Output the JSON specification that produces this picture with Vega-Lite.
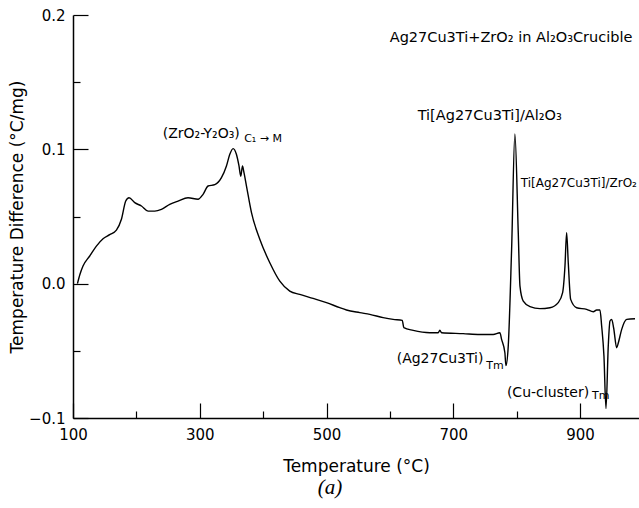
{
  "$schema": "https://vega.github.io/schema/vega-lite/v6.json",
  "autosize": {"type": "none"},
  "padding": {"left": 73, "top": 15, "right": 0, "bottom": 90},
  "width": 566,
  "height": 403,
  "background": "white",
  "config": {
    "font": "DejaVu Sans",
    "view": {"stroke": null},
    "title": {"font": "Liberation Serif", "fontStyle": "italic", "fontWeight": "normal", "fontSize": 21, "color": "black"}
  },
  "title": {"text": "(a)", "orient": "bottom", "anchor": "middle", "frame": "group", "offset": 3, "dx": -26},
  "datasets": {
    "curve": [
      {"t": 107, "d": 0.0},
      {"t": 111, "d": 0.007},
      {"t": 115.8, "d": 0.0131},
      {"t": 126.4, "d": 0.0206},
      {"t": 136.9, "d": 0.028},
      {"t": 147.4, "d": 0.0335},
      {"t": 157.9, "d": 0.0365},
      {"t": 168.5, "d": 0.0399},
      {"t": 176.4, "d": 0.0479},
      {"t": 183.2, "d": 0.0615},
      {"t": 188.4, "d": 0.064},
      {"t": 197.4, "d": 0.0603},
      {"t": 208, "d": 0.0578},
      {"t": 218.4, "d": 0.054},
      {"t": 229, "d": 0.054},
      {"t": 239.5, "d": 0.0553},
      {"t": 252.6, "d": 0.059},
      {"t": 265.7, "d": 0.0615},
      {"t": 281.5, "d": 0.064},
      {"t": 297.3, "d": 0.0628},
      {"t": 305.2, "d": 0.0665},
      {"t": 313.1, "d": 0.0727},
      {"t": 323.7, "d": 0.0737},
      {"t": 334.2, "d": 0.0789},
      {"t": 342.1, "d": 0.0876},
      {"t": 347.4, "d": 0.0963},
      {"t": 352.6, "d": 0.1005},
      {"t": 357.8, "d": 0.0963},
      {"t": 361.9, "d": 0.0876},
      {"t": 364.7, "d": 0.08},
      {"t": 367.4, "d": 0.0876},
      {"t": 369.3, "d": 0.0838},
      {"t": 373.7, "d": 0.0727},
      {"t": 381.6, "d": 0.0529},
      {"t": 394.7, "d": 0.033},
      {"t": 410.5, "d": 0.0156},
      {"t": 426.3, "d": 0.0019},
      {"t": 442, "d": -0.0055},
      {"t": 457.8, "d": -0.008},
      {"t": 478.8, "d": -0.011},
      {"t": 499.9, "d": -0.0141},
      {"t": 520.9, "d": -0.0179},
      {"t": 531.4, "d": -0.0196},
      {"t": 552.5, "d": -0.0216},
      {"t": 568.3, "d": -0.0229},
      {"t": 589.3, "d": -0.0253},
      {"t": 605.1, "d": -0.0266},
      {"t": 619.5, "d": -0.0273},
      {"t": 622, "d": -0.0328},
      {"t": 636.7, "d": -0.0348},
      {"t": 663, "d": -0.0365},
      {"t": 676.2, "d": -0.0365},
      {"t": 678.8, "d": -0.0346},
      {"t": 681.5, "d": -0.0365},
      {"t": 715.6, "d": -0.0372},
      {"t": 742, "d": -0.0378},
      {"t": 763, "d": -0.0378},
      {"t": 773.5, "d": -0.0365},
      {"t": 776.2, "d": -0.0415},
      {"t": 781.4, "d": -0.0514},
      {"t": 783, "d": -0.061},
      {"t": 786.7, "d": -0.0465},
      {"t": 792, "d": 0.0255},
      {"t": 797.2, "d": 0.1115},
      {"t": 802.5, "d": 0.038},
      {"t": 805.2, "d": -0.0018},
      {"t": 810.4, "d": -0.013},
      {"t": 821, "d": -0.0171},
      {"t": 836.7, "d": -0.0186},
      {"t": 852.5, "d": -0.0179},
      {"t": 865.6, "d": -0.0141},
      {"t": 872.5, "d": -0.0067},
      {"t": 876.2, "d": 0.0131},
      {"t": 878.8, "d": 0.038},
      {"t": 881.4, "d": 0.0156},
      {"t": 885.2, "d": -0.0117},
      {"t": 894.6, "d": -0.0179},
      {"t": 910.4, "d": -0.0191},
      {"t": 920.9, "d": -0.0209},
      {"t": 926.2, "d": -0.0196},
      {"t": 931.4, "d": -0.0196},
      {"t": 934.1, "d": -0.0316},
      {"t": 937.7, "d": -0.0539},
      {"t": 940.9, "d": -0.093},
      {"t": 944.5, "d": -0.0465},
      {"t": 947.2, "d": -0.0278},
      {"t": 949.9, "d": -0.0266},
      {"t": 953, "d": -0.033},
      {"t": 957.8, "d": -0.0477},
      {"t": 960.4, "d": -0.044},
      {"t": 965.7, "d": -0.034},
      {"t": 973.6, "d": -0.0266},
      {"t": 986.7, "d": -0.0261}
    ],
    "labels": [
      {"t": 599.7, "d": 0.1832, "txt": "Ag27Cu3Ti+ZrO₂ in Al₂O₃Crucible", "k": "a"},
      {"t": 643.8, "d": 0.125, "txt": "Ti[Ag27Cu3Ti]/Al₂O₃", "k": "a"},
      {"t": 241.5, "d": 0.1112, "txt": "(ZrO₂-Y₂O₃)", "k": "b"},
      {"t": 610.7, "d": -0.0564, "txt": "(Ag27Cu3Ti)", "k": "b"},
      {"t": 784.6, "d": -0.0812, "txt": "(Cu-cluster)", "k": "b"},
      {"t": 806.5, "d": 0.0752, "txt": "Ti[Ag27Cu3Ti]/ZrO₂", "k": "c"}
    ],
    "subs": [
      {"t": 370, "d": 0.1075, "txt": "C₁ → M"},
      {"t": 752, "d": -0.0612, "txt": "Tm"},
      {"t": 919, "d": -0.0837, "txt": "Tm"}
    ]
  },
  "layer": [
    {
      "data": {"name": "curve"},
      "mark": {"type": "line", "color": "black", "strokeWidth": 1.4, "interpolate": "monotone"},
      "encoding": {
        "x": {
          "field": "t", "type": "quantitative",
          "scale": {"domain": [100, 993], "nice": false, "zero": false},
          "axis": {
            "title": "Temperature (°C)",
            "values": [100, 200, 300, 400, 500, 600, 700, 800, 900],
            "labelExpr": "datum.value % 200 === 100 ? datum.label : ''",
            "format": "d",
            "grid": false,
            "domainColor": "black", "domainWidth": 1.5,
            "tickColor": "black", "tickWidth": 1.2,
            "tickSize": {"condition": {"test": "datum.value % 200 === 100", "value": -15}, "value": -7},
            "labelPadding": 24,
            "labelFontSize": 15, "labelColor": "black",
            "labelFlush": false, "labelOverlap": false,
            "titleFontSize": 17, "titleFontWeight": "normal", "titleColor": "black",
            "titlePadding": 8
          }
        },
        "y": {
          "field": "d", "type": "quantitative",
          "scale": {"domain": [-0.1, 0.2], "nice": false, "zero": false},
          "axis": {
            "title": "Temperature Difference (°C/mg)",
            "values": [-0.1, -0.05, 0, 0.05, 0.1, 0.15, 0.2],
            "labelExpr": "abs(datum.value*10 - round(datum.value*10)) < 0.001 ? format(datum.value, '.1f') : ''",
            "grid": false,
            "domainColor": "black", "domainWidth": 1.5,
            "tickColor": "black", "tickWidth": 1.2,
            "tickSize": {"condition": {"test": "abs(datum.value*10 - round(datum.value*10)) < 0.001", "value": -15}, "value": -7},
            "labelPadding": 23,
            "labelFontSize": 15, "labelColor": "black",
            "labelFlush": false, "labelOverlap": false,
            "titleFontSize": 17, "titleFontWeight": "normal", "titleColor": "black",
            "titlePadding": 2
          }
        }
      }
    },
    {
      "data": {"name": "labels"},
      "transform": [{"filter": "datum.k === 'a'"}],
      "mark": {"type": "text", "align": "left", "baseline": "middle", "fontSize": 14.5, "color": "black"},
      "encoding": {
        "x": {"field": "t", "type": "quantitative"},
        "y": {"field": "d", "type": "quantitative"},
        "text": {"field": "txt"}
      }
    },
    {
      "data": {"name": "labels"},
      "transform": [{"filter": "datum.k === 'b'"}],
      "mark": {"type": "text", "align": "left", "baseline": "middle", "fontSize": 14, "color": "black"},
      "encoding": {
        "x": {"field": "t", "type": "quantitative"},
        "y": {"field": "d", "type": "quantitative"},
        "text": {"field": "txt"}
      }
    },
    {
      "data": {"name": "labels"},
      "transform": [{"filter": "datum.k === 'c'"}],
      "mark": {"type": "text", "align": "left", "baseline": "middle", "fontSize": 12, "color": "black"},
      "encoding": {
        "x": {"field": "t", "type": "quantitative"},
        "y": {"field": "d", "type": "quantitative"},
        "text": {"field": "txt"}
      }
    },
    {
      "data": {"name": "subs"},
      "mark": {"type": "text", "align": "left", "baseline": "middle", "fontSize": 11, "color": "black"},
      "encoding": {
        "x": {"field": "t", "type": "quantitative"},
        "y": {"field": "d", "type": "quantitative"},
        "text": {"field": "txt"}
      }
    }
  ]
}
